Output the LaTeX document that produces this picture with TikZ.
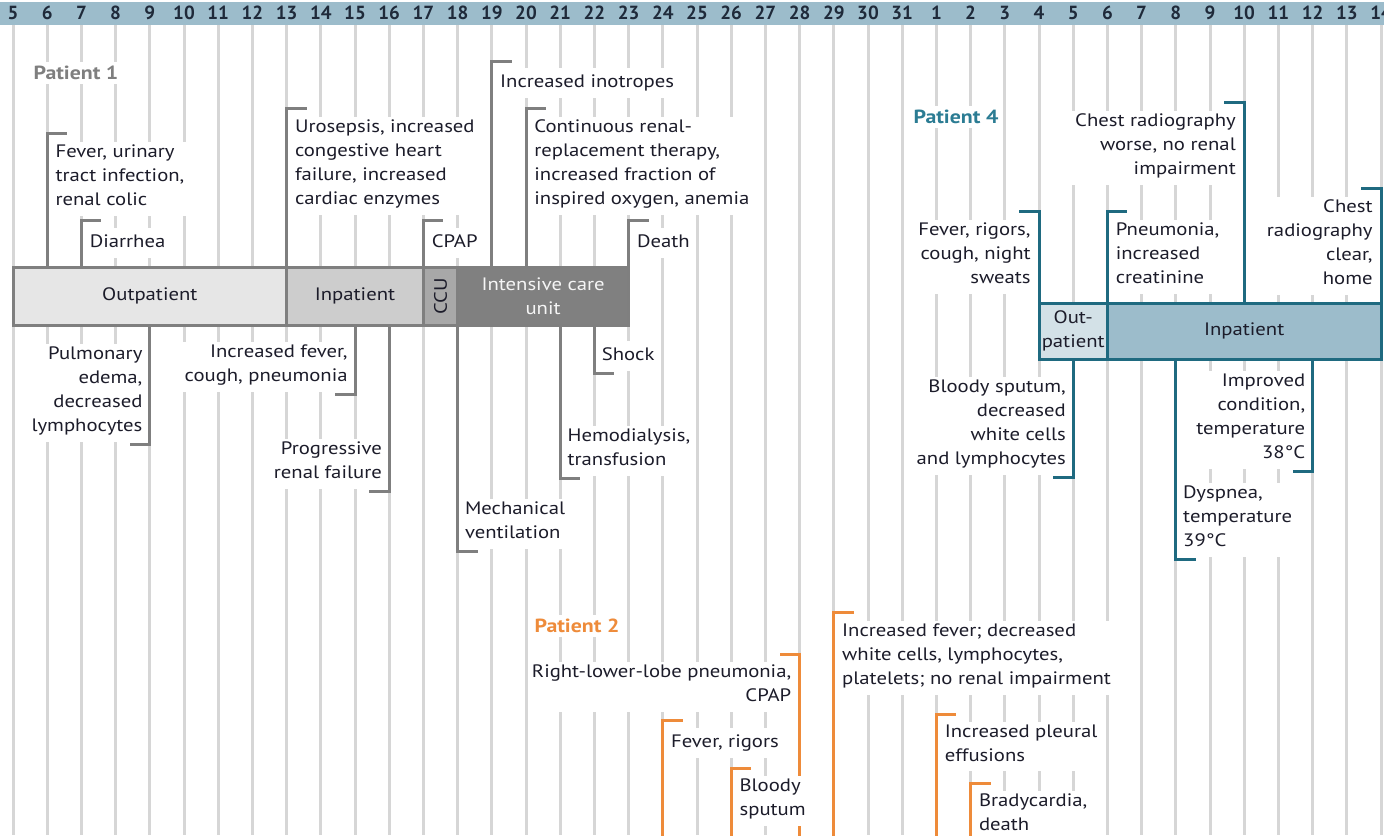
\documentclass[tikz,border=0pt]{standalone}
\usepackage{fontspec}
\setmainfont{PT Sans}[FakeStretch=1.15]
\newfontfamily\dayfont{PT Sans}
\usepackage{graphicx}
\usetikzlibrary{positioning}

\definecolor{barblue}{HTML}{9CBCCB}
\definecolor{daytext}{HTML}{1F2A3A}
\definecolor{gridgray}{HTML}{D6D6D6}
\definecolor{onegray}{HTML}{7F7F7F}
\definecolor{fourteal}{HTML}{1F6A80}
\definecolor{fourlabel}{HTML}{2B7C93}
\definecolor{twoorange}{HTML}{EE8B3A}
\definecolor{txt}{HTML}{1C1C2A}
\definecolor{opfill}{HTML}{E6E6E6}
\definecolor{ipfill}{HTML}{CDCDCD}
\definecolor{ccufill}{HTML}{A8A8A8}
\definecolor{icufill}{HTML}{808080}
\definecolor{opfourfill}{HTML}{D3E1E7}

\begin{document}
\begin{tikzpicture}[x=0.5pt, y=-0.5pt,
  daynum/.style={font=\dayfont\fontsize{9.5}{11}\selectfont\bfseries, text=daytext, inner sep=0pt},
  gridline/.style={draw=gridgray, line width=1.5pt},
  stage/.style={rectangle, line width=1.5pt, inner sep=0pt, outer sep=0pt,
                align=center, text=txt, font=\fontsize{9}{12}\selectfont},
  note/.style={fill=white, inner sep=1.5pt, align=left, text=txt,
               font=\fontsize{9}{12}\selectfont,
               execute at begin node=\strut, execute at end node=\strut},
  rnote/.style={note, align=right},
  patient/.style={fill=white, inner sep=2pt, font=\fontsize{9.5}{12}\selectfont\bfseries},
  flagone/.style={draw=onegray, line width=1.5pt},
  flagtwo/.style={draw=twoorange, line width=1.5pt},
  flagfour/.style={draw=fourteal, line width=1.5pt},
]
\useasboundingbox (0,0) rectangle (1384,835);

%% ── Day scale and grid ─────────────────────────────────────────────
\fill[barblue] (0,2) rectangle (1384,25);
\foreach \d in {5,...,31} {
  \draw[gridline] (13+34.2*\d-171,25) -- (13+34.2*\d-171,835);
  \node[daynum] at (13+34.2*\d-171,13) {\d};
}
\foreach \d in {1,...,14} {
  \draw[gridline] (13+34.2*\d+889.2,25) -- (13+34.2*\d+889.2,835);
  \node[daynum] at (13+34.2*\d+889.2,13) {\d};
}

%% ── Patient 1: stays ───────────────────────────────────────────────
\node[stage, draw=onegray, fill=opfill, minimum width=136.8pt, minimum height=29pt]
     (op1) at (149.8,296) {Outpatient};
\node[stage, draw=onegray, fill=ipfill, minimum width=68.4pt, minimum height=29pt]
     (ip1) at (355,296) {Inpatient};
\node[stage, draw=onegray, fill=ccufill, minimum width=17.1pt, minimum height=29pt]
     (ccu) at (440.5,296) {\rotatebox{90}{CCU}};
\node[stage, draw=onegray, fill=icufill, text=white!92!gray, minimum width=85.5pt, minimum height=29pt]
     (icu) at (543.1,296) {Intensive care\\unit};

%% ── Patient 1: flags ───────────────────────────────────────────────
\coordinate (a1) at (47.2,133);
\coordinate (a2) at (81.4,220);
\coordinate (a3) at (286.6,108);
\coordinate (a4) at (423.4,220);
\coordinate (a5) at (491.8,61);
\coordinate (a6) at (526,108);
\coordinate (a7) at (628.6,220);
\foreach \c in {a1,a2,a3,a4,a5,a6,a7}
  \draw[flagone] (\c |- op1.north) -- (\c) -- ++(10pt,0);

\coordinate (b1) at (149.8,444);
\coordinate (b2) at (355,394);
\coordinate (b3) at (389.2,491);
\coordinate (b4) at (457.6,551);
\coordinate (b5) at (560.2,478);
\coordinate (b6) at (594.4,373);
\foreach \c in {b1,b2,b3}
  \draw[flagone] (\c |- op1.south) -- (\c) -- ++(-10pt,0);
\foreach \c in {b4,b5,b6}
  \draw[flagone] (\c |- op1.south) -- (\c) -- ++(10pt,0);

%% ── Patient 4: stays and flags ─────────────────────────────────────
\node[stage, draw=fourteal, fill=opfourfill, minimum width=34.2pt, minimum height=28pt]
     (op4) at (1073.2,331) {Out-\\patient};
\node[stage, draw=fourteal, fill=barblue, minimum width=136.8pt, minimum height=28pt]
     (ip4) at (1244.2,331) {Inpatient};

\coordinate (c1) at (1039,211);
\coordinate (c2) at (1107.4,211);
\coordinate (c3) at (1244.2,102);
\coordinate (c4) at (1381,188);
\foreach \c in {c1,c3,c4}
  \draw[flagfour] (\c |- ip4.north) -- (\c) -- ++(-10pt,0);
\draw[flagfour] (c2 |- ip4.north) -- (c2) -- ++(10pt,0);

\coordinate (d1) at (1073.2,477);
\coordinate (d2) at (1175.8,559);
\coordinate (d3) at (1312.6,471);
\foreach \c in {d1,d3}
  \draw[flagfour] (\c |- ip4.south) -- (\c) -- ++(-10pt,0);
\draw[flagfour] (d2 |- ip4.south) -- (d2) -- ++(10pt,0);

%% ── Patient 2: flags (stays below the frame) ───────────────────────
\coordinate (p2end) at (0,840);
\coordinate (e1) at (799.6,654);
\coordinate (e2) at (662.8,720);
\coordinate (e3) at (731.2,768);
\coordinate (e4) at (833.8,612);
\coordinate (e5) at (936.4,714);
\coordinate (e6) at (970.6,783);
\draw[flagtwo] (e1 |- p2end) -- (e1) -- ++(-10pt,0);
\foreach \c in {e2,e3,e4,e5,e6}
  \draw[flagtwo] (\c |- p2end) -- (\c) -- ++(10pt,0);

%% ── Labels ─────────────────────────────────────────────────────────
\node[patient, text=onegray]   (pt1) at (76,73)   {Patient 1};
\node[patient, text=fourlabel] (pt4) at (956,117) {Patient 4};
\node[patient, text=twoorange] (pt2) at (577,626) {Patient 2};

\node[note, below right=4.1pt and 2.5pt of a1] (uti)      {Fever, urinary\\tract infection,\\renal colic};
\node[note, below right=3.6pt and 2.5pt of a2] (diarrhea) {Diarrhea};
\node[note, below right=4.1pt and 2.5pt of a3] (sepsis)   {Urosepsis, increased\\congestive heart\\failure, increased\\cardiac enzymes};
\node[note, below right=3.6pt and 2.5pt of a4] (cpap1)    {CPAP};
\node[note, below right=3.1pt and 2.5pt of a5] (inotrop)  {Increased inotropes};
\node[note, below right=4.1pt and 2.5pt of a6] (crrt)     {Continuous renal-\\replacement therapy,\\increased fraction of\\inspired oxygen, anemia};
\node[note, below right=3.6pt and 2.5pt of a7] (death1)   {Death};

\node[rnote, above left=1pt and 2pt of b1]  (edema)    {Pulmonary\\edema,\\decreased\\lymphocytes};
\node[rnote, above left=1pt and 2pt of b2]  (pneu1)    {Increased fever,\\cough, pneumonia};
\node[rnote, above left=1pt and 2pt of b3]  (renal)    {Progressive\\renal failure};
\node[note, above right=1pt and 2pt of b4]  (vent)     {Mechanical\\ventilation};
\node[note, above right=1pt and 2pt of b5]  (dialysis) {Hemodialysis,\\transfusion};
\node[note, above right=1pt and 2pt of b6]  (shock)    {Shock};

\node[rnote, below left=4.1pt and 2.5pt of c1]  (rigors4)  {Fever, rigors,\\cough, night\\sweats};
\node[note, below right=4.1pt and 2.5pt of c2]  (pneu4)    {Pneumonia,\\increased\\creatinine};
\node[rnote, below left=4.1pt and 2.5pt of c3]  (xrworse)  {Chest radiography\\worse, no renal\\impairment};
\node[rnote, below left=4.1pt and 2.5pt of c4]  (xrclear)  {Chest\\radiography\\clear,\\home};
\node[rnote, above left=1pt and 2pt of d1]      (sputum4)  {Bloody sputum,\\decreased\\white cells\\and lymphocytes};
\node[note, above right=1pt and 2pt of d2]      (dyspnea)  {Dyspnea,\\temperature\\39°C};
\node[rnote, above left=1pt and 2pt of d3]      (improved) {Improved\\condition,\\temperature\\38°C};

\node[rnote, below left=3.6pt and 2.5pt of e1]  (rll)      {Right-lower-lobe pneumonia,\\CPAP};
\node[note, below right=3.6pt and 2.5pt of e2]  (rigors2)  {Fever, rigors};
\node[note, below right=3.6pt and 2.5pt of e3]  (sputum2)  {Bloody\\sputum};
\node[note, below right=4.1pt and 2.5pt of e4]  (fever2)   {Increased fever; decreased\\white cells, lymphocytes,\\platelets; no renal impairment};
\node[note, below right=3.6pt and 2.5pt of e5]  (pleural)  {Increased pleural\\effusions};
\node[note, below right=3.6pt and 2.5pt of e6]  (brady)    {Bradycardia,\\death};

\end{tikzpicture}
\end{document}
